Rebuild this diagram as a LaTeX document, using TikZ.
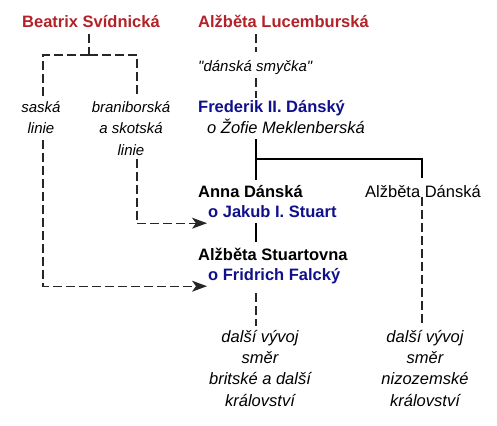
\documentclass[tikz,border=0pt]{standalone}
\usepackage{fontspec}
\setmainfont{Liberation Sans}[Ligatures=TeXOff]
\usetikzlibrary{arrows.meta}
\definecolor{hred}{RGB}{178,34,40}
\definecolor{hblue}{RGB}{16,16,140}
\begin{document}
\begin{tikzpicture}[x=1pt,y=-1pt,
  every node/.style={inner xsep=0pt,inner ysep=2.5pt,text height=12pt,text depth=3.5pt,
     font=\fontsize{16.5}{21}\selectfont},
  person/.style={anchor=base west},
  redname/.style={person,text=hred,font=\fontsize{16.5}{21}\selectfont\bfseries},
  bluename/.style={person,text=hblue,font=\fontsize{16.5}{21}\selectfont\bfseries},
  boldname/.style={person,font=\fontsize{16.5}{21}\selectfont\bfseries},
  spouse/.style={person,font=\fontsize{16.5}{21}\selectfont\itshape},
  note/.style={anchor=north,align=center,text height=,text depth=,inner ysep=0pt,
     font=\fontsize{15}{21.5}\selectfont\itshape},
  devnote/.style={anchor=north,align=center,text height=,text depth=,inner ysep=0pt,
     font=\fontsize{16.5}{21.3}\selectfont\itshape},
  dline/.style={draw=black!85,line width=1.3pt,dash pattern=on 9pt off 4pt},
  sline/.style={draw=black,line width=1.3pt},
  darrow/.style={dline,-{Stealth[length=15pt,width=11pt,inset=4pt]},shorten >=1pt}
]
\useasboundingbox (0,0) rectangle (497,425);

% nodes
\node[redname] (bea) at (22,28) {Beatrix Svídnická};
\node[redname] (alu) at (198,28) {Alžběta Lucemburská};
\node[person,font=\fontsize{15}{21}\selectfont\itshape] (dsm) at (198,72) {"dánská smyčka"};
\node[bluename] (fred) at (198,113) {Frederik II. Dánský};
\node[spouse] (zofie) at (207,133) {o Žofie Meklenberská};
\node[boldname] (anna) at (198,197) {Anna Dánská};
\node[bluename] (jakub) at (208,217) {o Jakub I. Stuart};
\node[person] (eliz) at (365,197) {Alžběta Dánská};
\node[boldname] (stuart) at (198,260) {Alžběta Stuartovna};
\node[bluename] (fridrich) at (208,280) {o Fridrich Falcký};

\node[note] (saska) at (41,101) {saská\\linie};
\node[note] (brani) at (131,101) {braniborská\\a skotská\\linie};

\node[devnote] (devL) at (260,330) {další vývoj\\směr\\britské a další\\království};
\node[devnote] (devR) at (425,330) {další vývoj\\směr\\nizozemské\\království};

% coordinates
\coordinate (xm) at (256,0);
\coordinate (xr) at (422,0);
\coordinate (jb) at (89,55);
\coordinate (xl) at (43,0);
\coordinate (xb) at (137,0);
\coordinate (jf) at (256,159);

% Beatrix lines
\draw[dline] (bea.south -| jb) -- (jb);
\draw[dline] (jb) -| ([yshift=4pt]saska.north -| xl);
\draw[dline] (jb) -| ([yshift=4pt]brani.north -| xb);
\draw[darrow] ([yshift=-6pt]saska.south -| xl) |- (fridrich.south west);
\draw[darrow] ([yshift=-3pt]brani.south -| xb) |- (jakub.south west);

% main line
\draw[dline] (alu.south -| xm) -- ([yshift=5pt]dsm.north -| xm);
\draw[dline] (dsm.south -| xm) -- (fred.north -| xm);
\draw[sline] (zofie.south -| xm) -- ([yshift=2.5pt]anna.north -| xm);
\draw[sline] (jf) -| ([yshift=4.5pt]eliz.north -| xr);
\draw[sline] (jakub.south -| xm) -- ([yshift=3.5pt]stuart.north -| xm);
\draw[dline] ([yshift=-7pt]fridrich.south -| xm) -- ([yshift=4pt]devL.north -| xm);
\draw[dline] ([yshift=6pt]eliz.south -| xr) -- ([yshift=4pt]devR.north -| xr);
\end{tikzpicture}
\end{document}
